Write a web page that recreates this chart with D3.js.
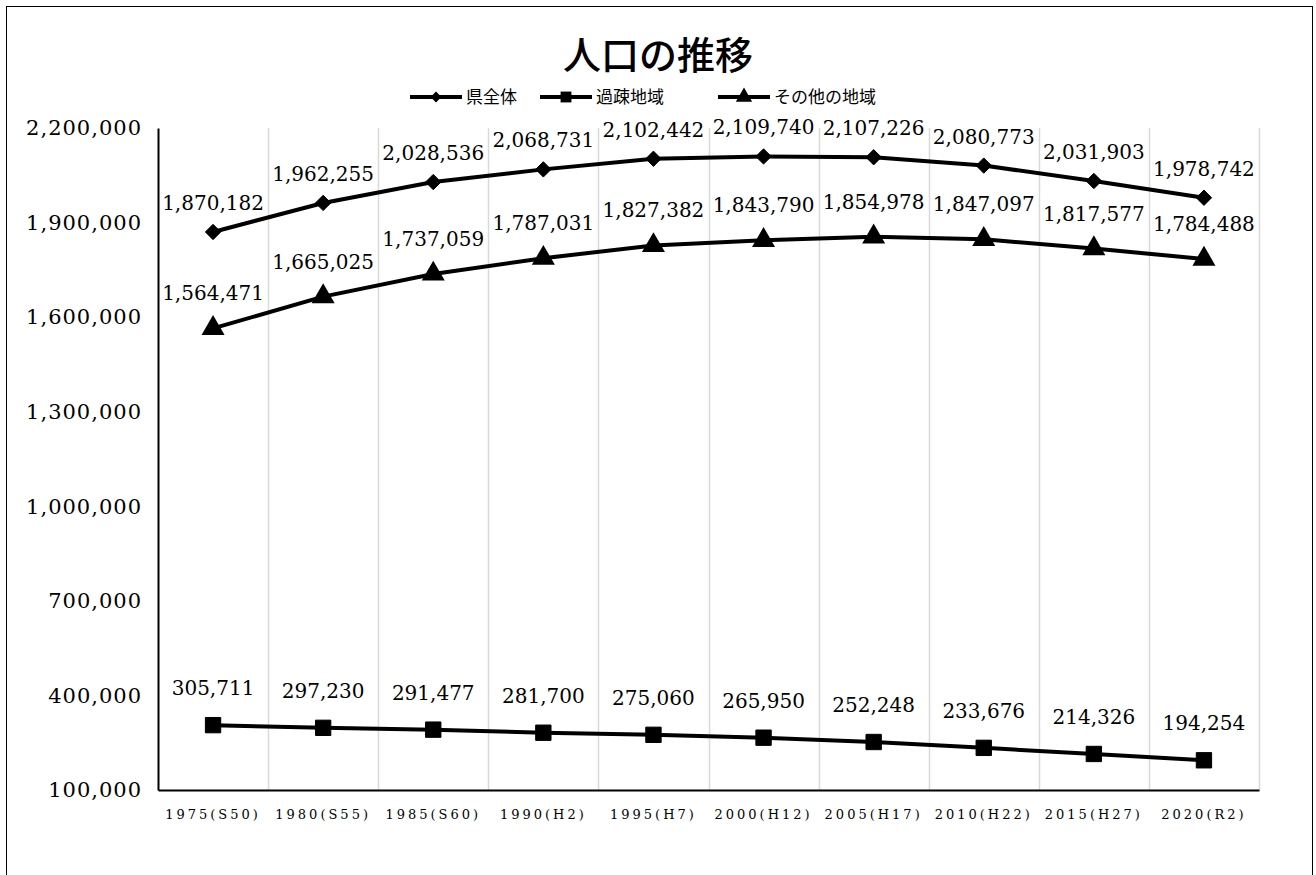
<!DOCTYPE html>
<html>
<head>
<meta charset="utf-8">
<script src="https://cdn.jsdelivr.net/npm/d3@7"></script>
<style>
    body { margin: 0; background: #fff; }
    svg text { fill: #000; }
</style>
</head>
<body>
<div id="chart"></div>
<script>
var years = ['1975(S50)', '1980(S55)', '1985(S60)', '1990(H2)', '1995(H7)', '2000(H12)', '2005(H17)', '2010(H22)', '2015(H27)', '2020(R2)'];
var seriesNames = ['県全体', '過疎地域', 'その他の地域'];
var prefTotal = [1870182, 1962255, 2028536, 2068731, 2102442, 2109740, 2107226, 2080773, 2031903, 1978742];
var depopulated = [305711, 297230, 291477, 281700, 275060, 265950, 252248, 233676, 214326, 194254];
var otherAreas = [1564471, 1665025, 1737059, 1787031, 1827382, 1843790, 1854978, 1847097, 1817577, 1784488];
var yTicks = [100000, 400000, 700000, 1000000, 1300000, 1600000, 1900000, 2200000];

var serif = '"DejaVu Serif", "Liberation Serif", "Noto Sans CJK JP", serif';
var jp = '"Noto Sans CJK JP", sans-serif';

var width = 1316, height = 875;
var margin = {top: 128, right: 57, bottom: 85, left: 158};

var svg = d3.select('#chart').append('svg')
    .attr('width', width)
    .attr('height', height);

// outer frame
svg.append('rect')
    .attr('x', 6.5).attr('y', 6.5)
    .attr('width', 1306).attr('height', 900)
    .attr('fill', 'none')
    .attr('stroke', '#000')
    .attr('stroke-width', 1);

var x = d3.scaleBand()
    .domain(years)
    .range([margin.left, width - margin.right]);

var y = d3.scaleLinear()
    .domain([100000, 2200000])
    .range([height - margin.bottom, margin.top]);

var fmt = d3.format(',');

// vertical grid at category boundaries
svg.append('g')
    .selectAll('line')
    .data(years)
    .enter()
    .append('line')
    .attr('x1', function (d) { return Math.round(x(d) + x.step()) + 0.5; })
    .attr('x2', function (d) { return Math.round(x(d) + x.step()) + 0.5; })
    .attr('y1', y(2200000))
    .attr('y2', y(100000))
    .attr('stroke', '#d9d9d9')
    .attr('stroke-width', 1.5);

// y axis
var yAxis = svg.append('g')
    .attr('transform', 'translate(' + margin.left + ',0)')
    .call(d3.axisLeft(y).tickValues(yTicks).tickFormat(fmt).tickSize(0).tickPadding(16));
yAxis.select('.domain').attr('stroke', '#000').attr('stroke-width', 2);
yAxis.selectAll('text')
    .style('font-family', serif)
    .style('font-size', '21px')
    .style('letter-spacing', '1px');

// x axis
var xAxis = svg.append('g')
    .attr('transform', 'translate(0,' + y(100000) + ')')
    .call(d3.axisBottom(x).tickSize(0).tickPadding(20));
xAxis.select('.domain').attr('stroke', '#000').attr('stroke-width', 2);
xAxis.selectAll('text')
    .style('font-family', serif)
    .style('font-size', '13px')
    .style('letter-spacing', '3px');

var line = d3.line()
    .x(function (d, i) { return x(years[i]) + x.bandwidth() / 2; })
    .y(function (d) { return y(d); });

var series = [
    {name: seriesNames[0], values: prefTotal, symbol: d3.symbolDiamond2, size: 150, labelDy: -22},
    {name: seriesNames[1], values: depopulated, symbol: d3.symbolSquare2, size: 300, labelDy: -30},
    {name: seriesNames[2], values: otherAreas, symbol: d3.symbolTriangle, size: 230, labelDy: -28}
];

series.forEach(function (s) {
    svg.append('path')
        .datum(s.values)
        .attr('d', line)
        .attr('fill', 'none')
        .attr('stroke', '#000')
        .attr('stroke-width', 4)
        .attr('stroke-linejoin', 'round');

    svg.append('g')
        .selectAll('path')
        .data(s.values)
        .enter()
        .append('path')
        .attr('d', d3.symbol().type(s.symbol).size(s.size))
        .attr('transform', function (d, i) {
            return 'translate(' + (x(years[i]) + x.bandwidth() / 2) + ',' + y(d) + ')';
        })
        .attr('fill', '#000')
        .attr('stroke', s.symbol === d3.symbolTriangle ? 'none' : '#000');

    svg.append('g')
        .selectAll('text')
        .data(s.values)
        .enter()
        .append('text')
        .attr('x', function (d, i) { return x(years[i]) + x.bandwidth() / 2; })
        .attr('y', function (d) { return y(d) + s.labelDy; })
        .attr('text-anchor', 'middle')
        .style('font-family', serif)
        .style('font-size', '20px')
        .text(function (d) { return fmt(d); });
});

// title
svg.append('text')
    .attr('x', 658)
    .attr('y', 69)
    .attr('text-anchor', 'middle')
    .style('font-family', jp)
    .style('font-size', '38px')
    .style('font-weight', 500)
    .text('人口の推移');

// legend
var legendX = [410, 540, 718];
var legend = svg.append('g')
    .selectAll('g')
    .data(series)
    .enter()
    .append('g')
    .attr('transform', function (d, i) { return 'translate(' + legendX[i] + ',97)'; });

legend.append('line')
    .attr('x1', 0).attr('x2', 52)
    .attr('stroke', '#000')
    .attr('stroke-width', 4);

legend.append('path')
    .attr('transform', 'translate(26,0)')
    .attr('d', function (d) { return d3.symbol().type(d.symbol).size(d.size * 0.5)(); })
    .attr('fill', '#000');

legend.append('text')
    .attr('x', 56)
    .attr('y', 6)
    .style('font-family', jp)
    .style('font-size', '17px')
    .text(function (d) { return d.name; });
</script>
</body>
</html>
